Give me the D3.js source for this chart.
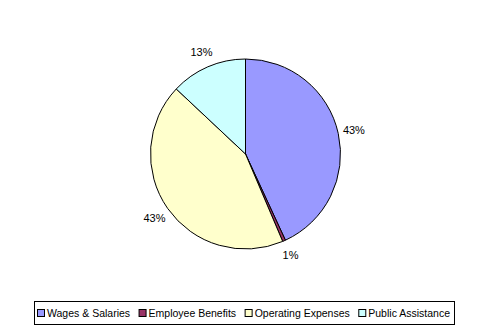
<!DOCTYPE html>
<html>
<head>
<meta charset="utf-8">
<script src="https://cdn.jsdelivr.net/npm/d3@7"></script>
<style>
  html, body { margin: 0; padding: 0; background: #fff; }
  svg { display: block; }
  text { font-family: Arial, "Liberation Sans", sans-serif; font-size: 11px; fill: #000; }
  .legend text { font-size: 10.5px; }
</style>
</head>
<body>
<svg id="chart" width="491" height="333"></svg>
<script>
// Budget shares by spending category (percent of total)
const categories = ["Wages & Salaries", "Employee Benefits", "Operating Expenses", "Public Assistance"];
const shares = [43.1, 0.5, 43.4, 13.0];
const pctLabels = ["43%", "1%", "43%", "13%"];
const colors = ["#9999FF", "#993366", "#FFFFCC", "#CCFFFF"];

const svg = d3.select("#chart");
const cx = 245.5, cy = 154, radius = 95;

const data = categories.map((c, i) => ({ name: c, value: shares[i], label: pctLabels[i], color: colors[i] }));

const pie = d3.pie().sort(null).value(d => d.value);
const arcs = pie(data);
const arc = d3.arc().innerRadius(0).outerRadius(radius);
const labelArc = d3.arc().innerRadius(111).outerRadius(111);

const g = svg.append("g").attr("transform", `translate(${cx},${cy})`);

g.selectAll("path.slice")
  .data(arcs)
  .join("path")
  .attr("class", "slice")
  .attr("d", arc)
  .attr("fill", d => d.data.color)
  .attr("stroke", "#000")
  .attr("stroke-width", 1)
  .attr("stroke-linejoin", "round");

g.selectAll("text.pct")
  .data(arcs)
  .join("text")
  .attr("class", "pct")
  .attr("x", d => labelArc.centroid(d)[0])
  .attr("y", d => labelArc.centroid(d)[1])
  .attr("text-anchor", "middle")
  .attr("dominant-baseline", "central")
  .text(d => d.data.label);

// Legend box along the bottom
const legend = svg.append("g").attr("class", "legend");
legend.append("rect")
  .attr("x", 34.5).attr("y", 301.5)
  .attr("width", 420).attr("height", 23)
  .attr("fill", "#fff").attr("stroke", "#000").attr("stroke-width", 1);

let lx = 37.5;
const ly = 313;
data.forEach(d => {
  const item = legend.append("g");
  item.append("rect")
    .attr("x", lx).attr("y", ly - 3.5)
    .attr("width", 7).attr("height", 7)
    .attr("fill", d.color).attr("stroke", "#000").attr("stroke-width", 1);
  const t = item.append("text")
    .attr("x", lx + 9.5)
    .attr("y", ly)
    .attr("dominant-baseline", "central")
    .text(d.name);
  lx += 9.5 + t.node().getComputedTextLength() + 9;
});
</script>
</body>
</html>
